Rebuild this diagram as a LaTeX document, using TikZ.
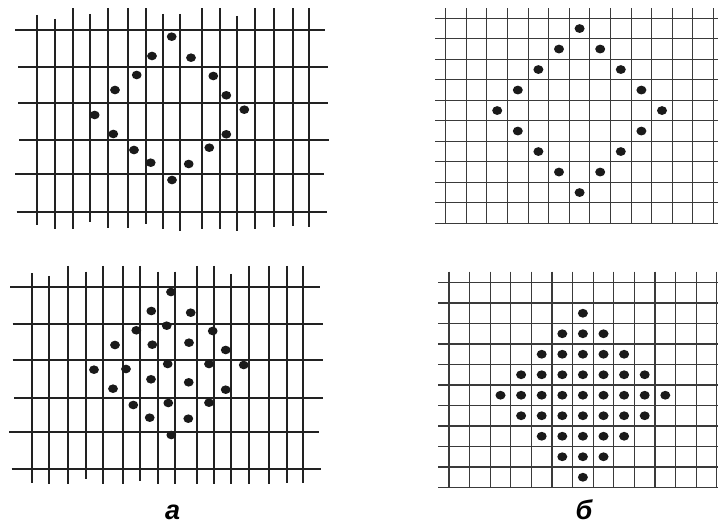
\documentclass[tikz,border=0pt]{standalone}
\usepackage{fontspec}
\newfontfamily\labfont{Liberation Sans}
\definecolor{thickline}{HTML}{222222}
\definecolor{thinline}{HTML}{3A3A3A}
\definecolor{dotcol}{HTML}{1A1A1A}
\tikzset{
  thickgrid/.style={draw=thickline, line width=2.2pt},
  thingrid/.style={draw=thinline, line width=1.1pt},
  dotfill/.style={fill=dotcol},
  sublabel/.style={font=\labfont\bfseries\itshape\fontsize{27}{30}\selectfont, inner sep=0pt, anchor=base}
}
\begin{document}
\begin{tikzpicture}[x=1pt,y=-1pt]
\useasboundingbox (0,0) rectangle (718,526);
\fill[white] (0,0) rectangle (718,526);

% ---------- top-left (a, hollow ring, irregular grid) ----------
\foreach \y/\xa/\xb in {30/15/325, 67.3/18.3/328.3, 102.7/18.3/328.3, 140/19.3/329.3, 174/15/324, 212.3/16.7/326.7}
  \draw[thickgrid] (\xa,\y) -- (\xb,\y);
\foreach \x/\ya/\yb in {36.7/15/225, 55/19/229.3, 73.3/8.3/229.3, 90/14/222.3, 108.3/8.3/228.3, 128.3/8.3/228.3, 145.7/8.3/224, 163.3/14/229.3, 180/14/230.7, 201.7/8.3/229.3, 220/8.3/229.3, 236.7/16/230.7, 255/8.3/229.3, 274/8.3/226.7, 292.7/8.3/226, 309/8.3/226.7}
  \draw[thickgrid] (\x,\ya) -- (\x,\yb);
\foreach \x/\y in {171.7/36.7, 152/56, 191/57.7, 136.7/75, 213.3/76, 115/90, 226.3/95.3, 94.7/115, 244.3/109.7, 113.3/134, 226.3/134.3, 134/150, 209.3/147.7, 150.7/162.7, 188.7/164, 172/180}
  \fill[dotfill] (\x,\y) ellipse [x radius=4.9pt, y radius=4.3pt];

% ---------- bottom-left (a, filled, irregular grid) ----------
\foreach \y/\xa/\xb in {287.3/10/320, 324/12.7/322.7, 360/12.7/322.7, 397.7/14/323.3, 431.7/9.3/319.3, 469.3/11.7/320.7}
  \draw[thickgrid] (\xa,\y) -- (\xb,\y);
\foreach \x/\ya/\yb in {31.7/273.3/483.3, 49.3/276/484, 68.3/266/484, 85.7/271.7/479.3, 103.3/266/484, 123.3/266/484, 140/266/480.7, 157.7/271.7/484, 175/271.7/484, 196.7/266/484, 214.3/266/484, 231/274/484, 249.3/266/484, 269.3/266/484, 287.3/266/482.7, 303.3/266/482.7}
  \draw[thickgrid] (\x,\ya) -- (\x,\yb);
\foreach \x/\y in {171/292, 151.3/311, 190.7/312.7, 136.3/330.3, 166.7/325.7, 212.7/331, 115/345, 152.3/344.7, 189/342.7, 225.7/350, 94/369.7, 126/369, 167.7/364, 209/364, 243.7/365, 151/379.3, 188.7/382.3, 113/388.7, 225.7/389.7, 133.3/405, 168.3/403, 209/402.7, 149.7/417.7, 188.3/418.7, 171.3/435}
  \fill[dotfill] (\x,\y) ellipse [x radius=4.9pt, y radius=4.3pt];

% ---------- top-right (b, hollow ring, regular grid) ----------
\foreach \j in {0,...,10}
  \draw[thingrid] (435,18.3+20.5*\j) -- (718,18.3+20.5*\j);
\foreach \k in {0,...,13}
  \draw[thingrid] (445.7+20.6*\k,8.3) -- (445.7+20.6*\k,223.3);
\foreach \k in {0,...,12}{
  \foreach \r in {0,...,8}{
    \pgfmathtruncatemacro{\dd}{abs(\k-6)+abs(\r-4)}
    \ifnum\dd=4
      \fill[dotfill] (445.7+20.6*\k+10.3, 18.3+20.5*\r+10.25) ellipse [x radius=5pt, y radius=4.4pt];
    \fi
  }
}

% ---------- bottom-right (b, filled, regular grid) ----------
\foreach \j in {0,...,10}
  \draw[thingrid] (438.3,282.5+20.5*\j) -- (718,282.5+20.5*\j);
\foreach \k in {0,...,13}
  \draw[thingrid] (449+20.6*\k,271.7) -- (449+20.6*\k,487.5);
\foreach \k in {0,...,12}{
  \foreach \r in {0,...,9}{
    \pgfmathtruncatemacro{\dd}{abs(\k-6)+abs(\r-5)}
    \ifnum\dd<5
      \fill[dotfill] (449+20.6*\k+10.3, 282.5+20.5*\r+10.25) ellipse [x radius=5pt, y radius=4.4pt];
    \fi
  }
}

% ---------- labels ----------
\node[sublabel] (labA) at (172.7,519.5) {а};
\node[sublabel] (labB) at (584,519.5) {б};
\end{tikzpicture}
\end{document}
